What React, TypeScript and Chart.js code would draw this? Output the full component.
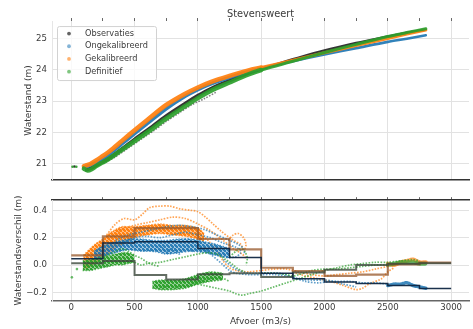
import React, { useEffect, useRef } from 'react';
import { Chart, registerables } from 'chart.js';
Chart.register(...registerables);

const FONT = 'DejaVu Sans';
const GRID = '#e2e2e2';
const TXT = '#3a3a3a';

const TITLE = 'Stevensweert';
const LEGEND_LABELS = ['Observaties', 'Ongekalibreerd', 'Gekalibreerd', 'Definitief'];
const X_TICKS = [0, 500, 1000, 1500, 2000, 2500, 3000];
const TOP_MARKS = [0, 250, 500, 750, 1000, 1250, 1500, 1750, 2000, 2250, 2500, 2750, 3000];
const BIN_EDGES = [0, 250, 500, 750, 1000, 1250, 1500, 1750, 2000, 2250, 2500, 2750, 3000];

// ---- top panel: afvoer (m3/s) vs waterstand (m)
const obsCurve: [number, number][] = [[120, 20.8], [160, 20.86], [200, 20.95], [250, 21.06], [300, 21.18], [400, 21.47], [500, 21.78], [600, 22.07], [750, 22.53], [900, 22.93], [1000, 23.18], [1100, 23.4], [1250, 23.66], [1400, 23.9], [1500, 24.03], [1650, 24.22], [1750, 24.34], [2000, 24.62], [2250, 24.86], [2500, 25.07], [2650, 25.19], [2790, 25.29]];
const ongCurve: [number, number][] = [[100, 20.88], [150, 20.95], [200, 21.05], [250, 21.17], [300, 21.31], [400, 21.63], [500, 21.96], [600, 22.28], [750, 22.76], [900, 23.16], [1000, 23.37], [1100, 23.55], [1250, 23.76], [1400, 23.95], [1500, 24.05], [1750, 24.28], [2000, 24.5], [2250, 24.7], [2500, 24.9], [2650, 25.0], [2800, 25.11]];
const gekCurve: [number, number][] = [[100, 20.92], [150, 20.99], [200, 21.11], [250, 21.25], [300, 21.39], [400, 21.73], [500, 22.07], [600, 22.4], [750, 22.88], [900, 23.24], [1000, 23.44], [1100, 23.61], [1250, 23.81], [1400, 23.99], [1500, 24.08], [1750, 24.31], [2000, 24.55], [2250, 24.78], [2500, 25.01], [2650, 25.15], [2800, 25.28]];
const defCurve: [number, number][] = [[100, 20.84], [130, 20.78], [160, 20.82], [200, 20.93], [250, 21.04], [300, 21.16], [400, 21.44], [500, 21.72], [600, 22.0], [750, 22.44], [900, 22.84], [1000, 23.1], [1100, 23.33], [1250, 23.6], [1400, 23.86], [1500, 24.0], [1750, 24.28], [2000, 24.56], [2250, 24.82], [2500, 25.07], [2650, 25.2], [2800, 25.32]];
const obsLower: [number, number][] = [[250, 21.0], [350, 21.22], [450, 21.5], [550, 21.78], [650, 22.05], [750, 22.35], [850, 22.62], [950, 22.88], [1050, 23.08], [1150, 23.3]];
const obsOutliers: [number, number][] = [[25, 20.91]];
const defOutliers: [number, number][] = [[10, 20.9], [40, 20.9]];

// ---- bottom panel: waterstandsverschil (m)
// dense clouds (upper / lower edge)
const gekCloudTop: [number, number][] = [[95, 0.07], [150, 0.12], [200, 0.16], [250, 0.19], [300, 0.23], [350, 0.26], [400, 0.28], [450, 0.28], [500, 0.28], [600, 0.29], [700, 0.3], [800, 0.29], [900, 0.29], [1000, 0.27], [1050, 0.23]];
const gekCloudBot: [number, number][] = [[95, -0.03], [150, -0.01], [200, 0.02], [250, 0.05], [300, 0.09], [350, 0.13], [400, 0.15], [450, 0.17], [500, 0.2], [600, 0.22], [700, 0.23], [800, 0.22], [900, 0.21], [1000, 0.19], [1050, 0.17]];
const ongCloudTop: [number, number][] = [[180, 0.1], [250, 0.14], [350, 0.17], [450, 0.19], [550, 0.19], [650, 0.18], [750, 0.18], [850, 0.19], [950, 0.19], [1050, 0.17], [1150, 0.15], [1250, 0.12]];
const ongCloudBot: [number, number][] = [[180, 0.03], [250, 0.06], [350, 0.09], [450, 0.11], [550, 0.1], [650, 0.1], [750, 0.08], [850, 0.09], [950, 0.1], [1050, 0.09], [1150, 0.07], [1250, 0.05]];
const defCloudTop: [number, number][] = [[90, 0.03], [150, 0.04], [200, 0.05], [250, 0.06], [300, 0.07], [350, 0.08], [400, 0.09], [450, 0.09], [500, 0.07]];
const defCloudBot: [number, number][] = [[90, -0.04], [150, -0.04], [200, -0.03], [250, -0.02], [300, -0.01], [350, 0.0], [400, 0.0], [450, 0.01], [500, 0.02]];
const defLowTop: [number, number][] = [[640, -0.12], [700, -0.11], [800, -0.11], [900, -0.1], [1000, -0.07], [1100, -0.05], [1200, -0.06]];
const defLowBot: [number, number][] = [[640, -0.17], [700, -0.18], [800, -0.18], [900, -0.17], [1000, -0.14], [1100, -0.12], [1200, -0.11]];

// scattered branches
const gekUpper: [number, number][] = [[280, 0.22], [350, 0.3], [420, 0.34], [500, 0.33], [560, 0.37], [620, 0.42], [700, 0.43], [780, 0.43], [860, 0.41], [940, 0.4], [1000, 0.39], [1060, 0.35], [1120, 0.3], [1180, 0.25], [1250, 0.2], [1300, 0.17], [1340, 0.15], [1360, 0.1]];
const gekUpper2: [number, number][] = [[300, 0.18], [400, 0.26], [500, 0.29], [600, 0.31], [700, 0.33], [800, 0.35], [900, 0.34], [1000, 0.3], [1100, 0.25], [1200, 0.18], [1280, 0.12], [1350, 0.08], [1380, 0.05]];
const gekLoop: [number, number][] = [[1240, 0.18], [1280, 0.22], [1320, 0.23], [1360, 0.2], [1380, 0.15], [1370, 0.11]];
const gekDesc: [number, number][] = [[1000, 0.24], [1080, 0.18], [1150, 0.1], [1200, 0.03], [1250, -0.02], [1300, -0.04], [1400, -0.05], [1500, -0.04], [1600, -0.03], [1700, -0.03], [1800, -0.05], [1900, -0.07], [2000, -0.08], [2100, -0.07], [2200, -0.06], [2300, -0.05], [2400, -0.03], [2500, -0.01]];
const gekLowArc: [number, number][] = [[1750, -0.05], [1850, -0.08], [1950, -0.1], [2050, -0.12], [2150, -0.15], [2250, -0.18], [2300, -0.17], [2350, -0.14], [2450, -0.1], [2500, -0.05], [2550, -0.02]];
const gekEnd: [number, number][] = [[2500, 0.01], [2550, 0.0], [2600, 0.02], [2650, 0.03], [2700, 0.04], [2750, 0.02], [2800, 0.02]];

const ongUpper: [number, number][] = [[350, 0.18], [450, 0.22], [550, 0.24], [650, 0.26], [750, 0.28], [850, 0.29], [950, 0.28], [1050, 0.26], [1150, 0.22], [1250, 0.18], [1320, 0.15], [1360, 0.12], [1370, 0.08]];
const ongUpper2: [number, number][] = [[400, 0.16], [500, 0.2], [600, 0.21], [700, 0.2], [800, 0.22], [900, 0.24], [1000, 0.22], [1100, 0.2], [1200, 0.16], [1300, 0.13], [1350, 0.1]];
const ongLoops: [number, number][] = [[600, 0.12], [650, 0.1], [700, 0.14], [750, 0.1], [800, 0.12], [850, 0.08], [900, 0.13], [950, 0.1], [1000, 0.12], [1100, 0.09], [1200, 0.06], [1300, 0.06], [1340, 0.09]];
const ongDesc: [number, number][] = [[1000, 0.15], [1100, 0.08], [1200, 0.0], [1250, -0.04], [1300, -0.06], [1400, -0.07], [1500, -0.07], [1600, -0.07], [1700, -0.08], [1800, -0.1], [1900, -0.11], [2000, -0.11], [2100, -0.12], [2200, -0.12], [2300, -0.13], [2400, -0.13], [2500, -0.14]];
const ongDesc2: [number, number][] = [[1200, 0.04], [1300, -0.03], [1400, -0.06], [1500, -0.06], [1650, -0.06], [1750, -0.09], [1850, -0.12], [1950, -0.13], [2050, -0.12], [2150, -0.14], [2250, -0.16]];
const ongEnd: [number, number][] = [[2500, -0.15], [2550, -0.14], [2600, -0.14], [2650, -0.13], [2700, -0.15], [2750, -0.16], [2800, -0.17]];

const defUpper: [number, number][] = [[250, 0.06], [300, 0.08], [350, 0.1], [400, 0.12], [450, 0.1], [500, 0.07], [550, 0.05], [600, 0.02], [650, 0.0], [700, -0.01]];
const defArc: [number, number][] = [[500, 0.02], [550, 0.0], [600, 0.01], [700, 0.02], [800, 0.04], [900, 0.06], [1000, 0.08], [1080, 0.09], [1150, 0.08], [1220, 0.04], [1280, 0.0], [1320, -0.03], [1370, -0.05]];
const defBump: [number, number][] = [[1250, 0.06], [1300, 0.1], [1340, 0.12], [1370, 0.1], [1390, 0.05], [1380, 0.0]];
const defLow2: [number, number][] = [[650, -0.17], [750, -0.16], [850, -0.16], [950, -0.14], [1000, -0.12], [1100, -0.1], [1200, -0.1], [1250, -0.12]];
const defLowest: [number, number][] = [[950, -0.13], [1050, -0.15], [1150, -0.17], [1250, -0.19], [1300, -0.21], [1350, -0.22], [1400, -0.21], [1500, -0.19], [1600, -0.16], [1700, -0.13], [1800, -0.1], [1900, -0.07], [2000, -0.04], [2100, -0.02], [2200, 0.0], [2300, 0.01], [2400, 0.02], [2500, 0.02], [2600, 0.03], [2700, 0.04], [2750, 0.03]];
const defMidTail: [number, number][] = [[1500, -0.06], [1600, -0.06], [1700, -0.07], [1750, -0.08], [1800, -0.07], [1900, -0.04], [2000, -0.03], [2100, -0.03], [2200, -0.02], [2300, -0.01], [2400, 0.0], [2500, 0.0]];
const defEnd: [number, number][] = [[2500, 0.0], [2550, 0.01], [2600, 0.02], [2650, 0.02], [2700, 0.02], [2750, 0.01], [2800, 0.01]];
const defOutBottom: [number, number][] = [[5, -0.09], [45, -0.03]];

// bin means (per 250 m3/s)
const gekBinMean = [0.07, 0.21, 0.27, 0.27, 0.19, 0.115, -0.02, -0.045, -0.08, -0.07, 0.005, 0.017];
const ongBinMean = [0.046, 0.16, 0.17, 0.17, 0.12, 0.055, -0.06, -0.1, -0.125, -0.135, -0.15, -0.172];
const defBinMean = [0.012, 0.03, -0.073, -0.105, -0.068, -0.06, -0.088, -0.055, -0.035, 0.0, 0.01, 0.012];

const X_MIN = -152;
const X_MAX = 3141;

const toXY = (a: [number, number][]) => a.map(([x, y]) => ({ x, y }));
const stepXY = (vals: number[]) => {
  const pts = vals.map((v, i) => ({ x: BIN_EDGES[i], y: v }));
  pts.push({ x: BIN_EDGES[BIN_EDGES.length - 1], y: vals[vals.length - 1] });
  return pts;
};

const BLACK = 'rgba(25,25,25,0.88)';
const BLUE = 'rgba(31,119,180,0.92)';
const ORANGE = 'rgba(255,127,14,0.92)';
const GREEN = 'rgba(44,160,44,0.92)';
const BLUE_S = 'rgba(31,119,180,0.7)';
const ORANGE_S = 'rgba(255,127,14,0.7)';
const GREEN_S = 'rgba(44,160,44,0.7)';
const LEGEND_COLORS = ['rgba(60,60,60,0.8)', 'rgba(31,119,180,0.55)', 'rgba(255,127,14,0.6)', 'rgba(44,160,44,0.6)'];

const tickFont = { family: FONT, size: 8.6 };
const labelFont = { family: FONT, size: 9 };

function speckle(rgb: string, base: number, dot: number): CanvasPattern | string {
  const c = document.createElement('canvas');
  c.width = 4;
  c.height = 4;
  const g = c.getContext('2d');
  if (!g) return `rgba(${rgb},0.7)`;
  g.fillStyle = `rgba(${rgb},${base})`;
  g.fillRect(0, 0, 4, 4);
  g.fillStyle = `rgba(${rgb},${dot})`;
  g.fillRect(0, 0, 2, 2);
  g.fillRect(2, 2, 2, 2);
  g.fillRect(3, 0, 1, 1);
  g.fillRect(0, 3, 1, 1);
  const p = g.createPattern(c, 'repeat');
  return p || `rgba(${rgb},0.7)`;
}

const legendPlugin = {
  id: 'customLegend',
  afterDraw(chart: any) {
    const ctx = chart.ctx;
    const { left, top } = chart.chartArea;
    const x0 = left + 5;
    const y0 = top + 5;
    const w = 99;
    const h = 54;
    ctx.save();
    ctx.fillStyle = 'rgba(255,255,255,0.8)';
    ctx.strokeStyle = '#d2d2d2';
    ctx.lineWidth = 1;
    ctx.beginPath();
    ctx.roundRect(x0 + 0.5, y0 + 0.5, w, h, 2);
    ctx.fill();
    ctx.stroke();
    ctx.font = `8.2px "${FONT}"`;
    ctx.textBaseline = 'middle';
    LEGEND_LABELS.forEach((lab, i) => {
      const cy = y0 + 7.5 + i * 12.7;
      ctx.fillStyle = LEGEND_COLORS[i];
      ctx.beginPath();
      ctx.arc(x0 + 12, cy, 1.9, 0, Math.PI * 2);
      ctx.fill();
      ctx.fillStyle = TXT;
      ctx.fillText(lab, x0 + 28, cy);
    });
    ctx.restore();
  },
};

function curve(label: string, data: [number, number][], color: string, wThick: number, wThin: number, order: number) {
  return {
    label,
    data: toXY(data),
    borderColor: color,
    backgroundColor: color,
    borderWidth: wThick,
    borderCapStyle: 'round',
    borderJoinStyle: 'round',
    pointRadius: 0,
    tension: 0.3,
    showLine: true,
    order,
    segment: { borderWidth: (c: any) => (c.p0.parsed.x >= 1500 ? wThin : wThick) },
  };
}

function dots(data: [number, number][], color: string, order: number) {
  return { data: toXY(data), showLine: false, pointRadius: 1.3, pointBorderWidth: 0, backgroundColor: color, borderColor: color, order };
}

function branch(data: [number, number][], color: string, order: number) {
  return {
    data: toXY(data),
    showLine: true,
    borderColor: color,
    borderWidth: 1.7,
    borderDash: [1.6, 1.4],
    pointRadius: 0,
    tension: 0.3,
    order,
  };
}

function band(data: [number, number][], color: string, width: number, order: number) {
  return { data: toXY(data), showLine: true, borderColor: color, borderWidth: width, borderCapStyle: 'round', borderDash: [2, 1], pointRadius: 0, tension: 0.3, order };
}

function fillPair(top: [number, number][], bot: [number, number][], color: any, edge: string, order: number) {
  return [
    { data: toXY(top), showLine: true, borderWidth: 1.4, borderDash: [1.5, 1.5], borderColor: edge, pointRadius: 0, tension: 0.3, fill: '+1', backgroundColor: color, order },
    { data: toXY(bot), showLine: true, borderWidth: 1.4, borderDash: [1.5, 1.5], borderColor: edge, pointRadius: 0, tension: 0.3, fill: false, order },
  ];
}

function step(vals: number[], color: string, width: number, order: number) {
  return { data: stepXY(vals), showLine: true, stepped: 'before', borderColor: color, borderWidth: width, pointRadius: 0, order };
}

export default function App() {
  const topRef = useRef<HTMLCanvasElement>(null);
  const botRef = useRef<HTMLCanvasElement>(null);

  useEffect(() => {
    const setTicks = (vals: number[]) => (s: any) => {
      s.ticks = vals.map((v) => ({ value: v }));
    };
    const pOrange = speckle('255,127,14', 0.5, 0.95);
    const pBlue = speckle('31,119,180', 0.42, 0.9);
    const pGreen = speckle('44,160,44', 0.5, 0.95);

    const top = new Chart(topRef.current as HTMLCanvasElement, {
      type: 'line',
      data: {
        datasets: [
          curve('Definitief', defCurve, GREEN, 4.5, 3, 0),
          curve('Gekalibreerd', gekCurve, ORANGE, 4.5, 3, 1),
          curve('Ongekalibreerd', ongCurve, BLUE, 3.5, 2.6, 2),
          curve('Observaties', obsCurve, BLACK, 3.5, 2.6, 3),
          { ...branch(obsLower, 'rgba(40,40,40,0.6)', 3), borderWidth: 1.5 },
          dots(obsOutliers, BLACK, 3),
          dots(defOutliers, GREEN, 0),
        ] as any,
      },
      options: {
        animation: false,
        responsive: false,
        devicePixelRatio: 1,
        layout: { padding: 0 },
        plugins: {
          legend: { display: false },
          tooltip: { enabled: false },
          title: {
            display: true,
            text: TITLE,
            fullSize: false,
            color: TXT,
            font: { family: FONT, size: 9.8, weight: 'normal' },
            padding: { top: 8.5, bottom: 0.8 },
          },
        },
        scales: {
          x: {
            type: 'linear',
            position: 'bottom',
            min: X_MIN,
            max: X_MAX,
            afterBuildTicks: setTicks(X_TICKS),
            ticks: { display: false },
            grid: { color: GRID, drawTicks: false },
            border: { color: '#333', width: 1.4 },
            afterFit: (s: any) => { s.height = 5; },
          },
          xTop: {
            type: 'linear',
            position: 'top',
            min: X_MIN,
            max: X_MAX,
            afterBuildTicks: setTicks(TOP_MARKS),
            ticks: { display: false },
            grid: { drawOnChartArea: false, drawTicks: true, tickLength: 3, color: '#666' },
            border: { display: false },
            afterFit: (s: any) => { s.height = 0; },
          },
          y: {
            type: 'linear',
            min: 20.482,
            max: 25.567,
            ticks: { stepSize: 1, includeBounds: false, padding: 5, color: TXT, font: tickFont },
            grid: { color: GRID, drawTicks: false },
            border: { color: '#e6e6e6' },
            title: { display: true, text: 'Waterstand (m)', color: TXT, font: labelFont, padding: { top: 23.5, bottom: 0 } },
            afterFit: (s: any) => { s.width = 52; },
          },
        },
      } as any,
      plugins: [legendPlugin],
    });

    const bottom = new Chart(botRef.current as HTMLCanvasElement, {
      type: 'line',
      data: {
        datasets: [
          step(ongBinMean, 'rgba(15,38,66,0.95)', 1.5, 0),
          step(defBinMean, 'rgba(60,72,60,0.8)', 2, 0),
          step(gekBinMean, 'rgba(150,85,40,0.75)', 2.2, 0),
          branch(defUpper, GREEN_S, 1),
          branch(defArc, GREEN_S, 1),
          branch(defBump, GREEN_S, 1),
          branch(defLow2, GREEN_S, 1),
          branch(defLowest, GREEN_S, 1),
          branch(defMidTail, GREEN_S, 1),
          band(defEnd, GREEN_S, 4, 1),
          dots(defOutBottom, GREEN_S, 1),
          ...fillPair(defCloudTop, defCloudBot, pGreen, GREEN_S, 2),
          ...fillPair(defLowTop, defLowBot, pGreen, GREEN_S, 2),
          branch(ongUpper, BLUE_S, 3),
          branch(ongUpper2, BLUE_S, 3),
          branch(ongLoops, BLUE_S, 3),
          branch(ongDesc, BLUE_S, 3),
          branch(ongDesc2, BLUE_S, 3),
          band(ongEnd, 'rgba(31,119,180,0.85)', 3.5, 3),
          ...fillPair(ongCloudTop, ongCloudBot, pBlue, BLUE_S, 4),
          branch(gekUpper, ORANGE_S, 5),
          branch(gekUpper2, ORANGE_S, 5),
          branch(gekLoop, ORANGE_S, 5),
          branch(gekDesc, ORANGE_S, 5),
          branch(gekLowArc, ORANGE_S, 5),
          band(gekEnd, ORANGE_S, 4, 5),
          ...fillPair(gekCloudTop, gekCloudBot, pOrange, ORANGE_S, 6),
        ] as any,
      },
      options: {
        animation: false,
        responsive: false,
        devicePixelRatio: 1,
        layout: { padding: { top: 5 } },
        plugins: { legend: { display: false }, tooltip: { enabled: false }, title: { display: false } },
        scales: {
          x: {
            type: 'linear',
            position: 'bottom',
            min: X_MIN,
            max: X_MAX,
            afterBuildTicks: setTicks(X_TICKS),
            ticks: { padding: 2, color: TXT, font: tickFont, maxRotation: 0, autoSkip: false, callback: (v: any) => String(Math.round(v)) },
            grid: { color: GRID, drawTicks: false },
            border: { color: '#666', width: 1.4 },
            title: { display: true, text: 'Afvoer (m3/s)', color: TXT, font: labelFont, padding: { top: 0, bottom: 2 } },
            afterFit: (s: any) => { s.height = 28; },
          },
          xTop: {
            type: 'linear',
            position: 'top',
            min: X_MIN,
            max: X_MAX,
            afterBuildTicks: setTicks(TOP_MARKS),
            ticks: { display: false },
            grid: { drawOnChartArea: false, drawTicks: true, tickLength: 3, color: '#666' },
            border: { display: true, color: '#333', width: 1.4 },
            afterFit: (s: any) => { s.height = 0; },
          },
          y: {
            type: 'linear',
            min: -0.263,
            max: 0.474,
            ticks: {
              stepSize: 0.2,
              includeBounds: false,
              padding: 5,
              color: TXT,
              font: tickFont,
              callback: (v: any) => (v < -1e-9 ? '\u2212' : '') + Math.abs(v).toFixed(1),
            },
            grid: { color: GRID, drawTicks: false },
            border: { color: '#e6e6e6' },
            title: { display: true, text: 'Waterstandsverschil (m)', color: TXT, font: labelFont, padding: { top: 13.5, bottom: 0 } },
            afterFit: (s: any) => { s.width = 52; },
          },
        },
      } as any,
    });

    return () => {
      top.destroy();
      bottom.destroy();
    };
  }, []);

  return (
    <div style={{ position: 'fixed', left: 0, top: 0, width: 473, height: 329, background: '#fff' }}>
      <canvas ref={topRef} width={473} height={190} style={{ position: 'absolute', left: 0, top: 0, width: 473, height: 190, display: 'block' }} />
      <canvas ref={botRef} width={473} height={139} style={{ position: 'absolute', left: 0, top: 190, width: 473, height: 139, display: 'block' }} />
    </div>
  );
}
